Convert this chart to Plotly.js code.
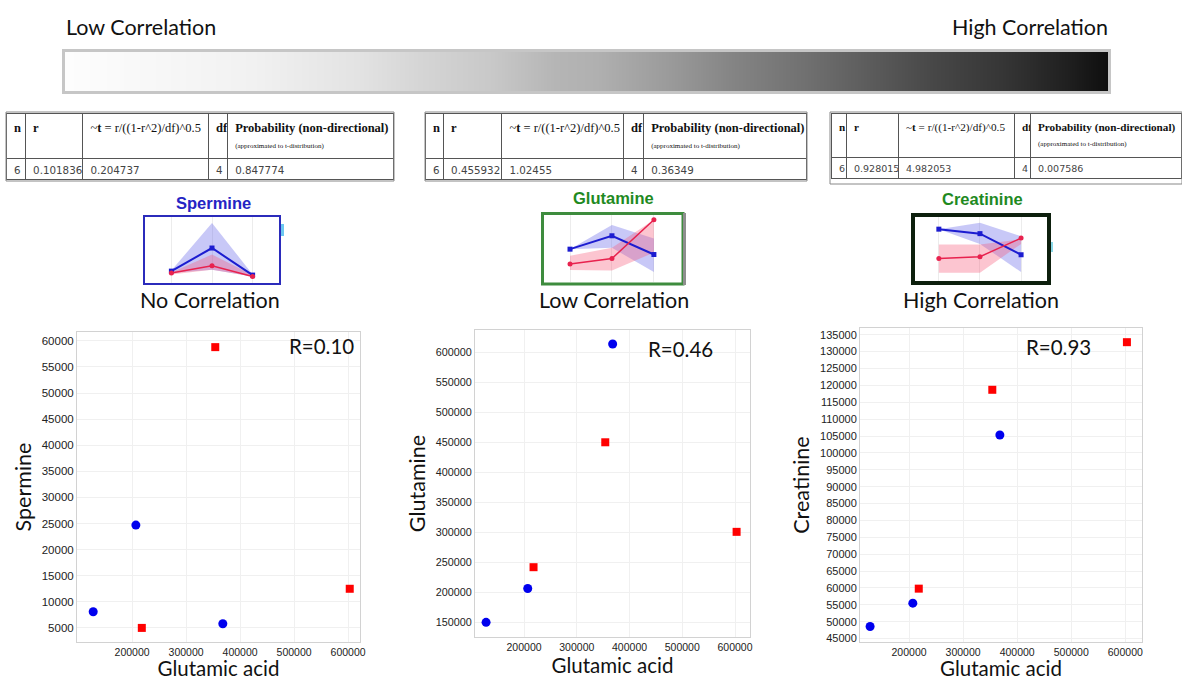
<!DOCTYPE html>
<html>
<head>
<meta charset="utf-8">
<script src="https://cdn.plot.ly/plotly-3.0.1.min.js"></script>
<style>html,body{margin:0;padding:0;background:#fff;}#chart{width:1182px;height:680px;}</style>
</head>
<body>
<div id="chart"></div>
<script>
// ---------- DATA ----------
const glutamicBlue = [128000, 207000, 368000];
const glutamicRed  = [218000, 354000, 603000];
const spermineBlue = [8100, 24700, 5800];
const spermineRed  = [5000, 58800, 12500];
const glutamineBlue = [150000, 206500, 614500];
const glutamineRed  = [242000, 450500, 301000];
const creatinineBlue = [48600, 55500, 105300];
const creatinineRed  = [59800, 118700, 132800];
const glutamicTicks = [200000, 300000, 400000, 500000, 600000];
const rLabels = ["R=0.10", "R=0.46", "R=0.93"];
const metabolites = ["Spermine", "Glutamine", "Creatinine"];
const correlationLabels = ["No Correlation", "Low Correlation", "High Correlation"];

// gradient legend (position along bar, grey level)
const gradientPos = [0, 0.08, 0.18, 0.28, 0.34, 0.41, 0.47, 0.51, 0.58, 0.64, 0.71, 0.77, 0.83, 0.90, 0.96, 1];
const gradientLevels = [253, 248, 241, 227, 213, 200, 181, 176, 154, 132, 112, 92, 72, 53, 32, 14];

// stats tables
const NB = '\u00a0';
const tableHeader = ['<b>n</b>', '<b>r</b>',
  ['~<b>t</b>', '=', 'r/((1-r^2)/df)^0.5'].join(NB), '<b>df</b>',
  '<b>' + ['Probability', '(non-directional)'].join(NB) + '</b><br><span style="font-size:7px">' +
  ['(approximated', 'to', 't-distribution)'].join(NB) + '</span>'];
const statsSpermine   = ['6', '0.101836', '0.204737', '4', '0.847774'];
const statsGlutamine  = ['6', '0.455932', '1.02455', '4', '0.36349'];
const statsCreatinine = ['6', '0.928015', '4.982053', '4', '0.007586'];

// mini icon profiles (3 groups)
const iconX = [0, 1, 2];
const spIconBlue = [1.8, 5.3, 1.2], spIconRed = [1.5, 2.6, 1.0];
const spBandBlueHi = [1.9, 9.1, 1.3], spBandBlueLo = [1.5, 2.0, 1.0];
const spBandRedHi = [1.6, 4.3, 1.2], spBandRedLo = [1.3, 2.0, 1.0];
const glIconBlue = [4.9, 6.9, 4.1], glIconRed = [2.7, 3.5, 9.3];
const glBandBlueHi = [4.9, 8.5, 6.5], glBandBlueLo = [4.9, 5.1, 1.5];
const glBandRedHi = [3.9, 5.1, 9.3], glBandRedLo = [1.8, 1.7, 4.4];
const crIconBlue = [8.1, 7.4, 4.1], crIconRed = [3.5, 3.8, 6.7];
const crBandBlueHi = [8.1, 9.1, 7.0], crBandBlueLo = [8.1, 5.8, 1.4];
const crBandRedHi = [5.7, 5.7, 6.5], crBandRedLo = [1.3, 1.3, 5.8];

// ---------- HELPERS ----------
const W = 1182, H = 680;
const dx = (a, b) => [a / W, b / W];
const dy = (top, bottom) => [1 - bottom / H, 1 - top / H];
const px = a => a / W, py = b => 1 - b / H;

const BLUE = '#0000ee', RED = '#ff0000';
const traces = [];

function scatterPair(xa, ya, yb, yr) {
  traces.push({type: 'scatter', mode: 'markers', x: glutamicBlue, y: yb, xaxis: xa, yaxis: ya,
    marker: {color: BLUE, size: 9, symbol: 'circle'}, hoverinfo: 'skip'});
  traces.push({type: 'scatter', mode: 'markers', x: glutamicRed, y: yr, xaxis: xa, yaxis: ya,
    marker: {color: RED, size: 8, symbol: 'square'}, hoverinfo: 'skip'});
}
scatterPair('x', 'y', spermineBlue, spermineRed);
scatterPair('x2', 'y2', glutamineBlue, glutamineRed);
scatterPair('x3', 'y3', creatinineBlue, creatinineRed);

// gradient bar
traces.push({type: 'heatmap', x: gradientPos, y: [0], z: [gradientLevels], xaxis: 'x4', yaxis: 'y4',
  zmin: 0, zmax: 255, zsmooth: 'best', showscale: false, hoverinfo: 'skip',
  colorscale: [[0, 'rgb(0,0,0)'], [1, 'rgb(255,255,255)']]});

// mini icons
function icon(xa, ya, blue, red, bHi, bLo, rHi, rLo) {
  const polyX = iconX.concat(iconX.slice().reverse());
  traces.push({type: 'scatter', mode: 'lines', x: polyX, y: bHi.concat(bLo.slice().reverse()),
    fill: 'toself', fillcolor: 'rgba(110,110,235,0.38)', line: {width: 0}, xaxis: xa, yaxis: ya, hoverinfo: 'skip'});
  traces.push({type: 'scatter', mode: 'lines', x: polyX, y: rHi.concat(rLo.slice().reverse()),
    fill: 'toself', fillcolor: 'rgba(245,90,120,0.35)', line: {width: 0}, xaxis: xa, yaxis: ya, hoverinfo: 'skip'});
  traces.push({type: 'scatter', mode: 'lines+markers', x: iconX, y: blue, xaxis: xa, yaxis: ya,
    line: {color: '#1c1cd0', width: 2}, marker: {symbol: 'square', size: 5, color: '#1c1cd0'}, hoverinfo: 'skip'});
  traces.push({type: 'scatter', mode: 'lines+markers', x: iconX, y: red, xaxis: xa, yaxis: ya,
    line: {color: '#e8224e', width: 1.5}, marker: {symbol: 'circle', size: 5, color: '#e8224e'}, hoverinfo: 'skip'});
}
icon('x5', 'y5', spIconBlue, spIconRed, spBandBlueHi, spBandBlueLo, spBandRedHi, spBandRedLo);
icon('x6', 'y6', glIconBlue, glIconRed, glBandBlueHi, glBandBlueLo, glBandRedHi, glBandRedLo);
icon('x7', 'y7', crIconBlue, crIconRed, crBandBlueHi, crBandBlueLo, crBandRedHi, crBandRedLo);

// tables
function statTable(row, xd, widths, hs, cs) {
  traces.push({type: 'table', domain: {x: xd, y: dy(113, 182)}, columnwidth: widths,
    header: {values: tableHeader, align: 'left', height: 44,
      line: {color: '#555', width: 1}, fill: {color: '#fff'},
      font: {family: 'Liberation Serif, DejaVu Serif, serif', size: hs, color: '#111'}},
    cells: {values: row.map(v => [v]), align: 'left', height: 21,
      line: {color: '#555', width: 1}, fill: {color: '#fff'},
      font: {family: 'DejaVu Sans, Liberation Sans, sans-serif', size: cs, color: '#444'}}});
}
statTable(statsSpermine, dx(6, 393), [19, 57, 125, 19, 165], 12.5, 10.3);
statTable(statsGlutamine, dx(425, 806), [18, 58, 121, 20, 162], 12.5, 10.3);
statTable(statsCreatinine, dx(831, 1182), [15, 52, 116, 16, 151], 11.2, 9.5);

// ---------- LAYOUT ----------
const tickFontY = s => ({family: 'Liberation Sans, Arial, sans-serif', size: s, color: '#222'});
const titleFont = {family: 'Lato, Open Sans, sans-serif', size: 20.5, color: '#111'};
function sx(dom, range, anchor) {
  return {domain: dom, range: range, anchor: anchor, tickvals: glutamicTicks, tickformat: 'd',
    showline: true, mirror: true, linecolor: '#d2d2d2', linewidth: 1, gridcolor: '#f0f0f0',
    zeroline: false, ticks: '', tickfont: tickFontY(10.5), automargin: false,
    title: {text: 'Glutamic acid', font: titleFont, standoff: 4}};
}
function sy(dom, range, dt, anchor, title, fs) {
  return {domain: dom, range: range, anchor: anchor, dtick: dt, tick0: 0, tickformat: 'd',
    showline: true, mirror: true, linecolor: '#d2d2d2', linewidth: 1, gridcolor: '#f0f0f0',
    zeroline: false, ticks: '', tickfont: tickFontY(fs), automargin: false,
    title: {text: title, font: Object.assign({}, titleFont, {size: 21.5}), standoff: 4}};
}
function iconAx(dom, range, anchor, grid) {
  return {domain: dom, range: range, anchor: anchor, showgrid: grid, gridcolor: '#ececec',
    tickvals: grid ? iconX : [], showticklabels: false, zeroline: false, showline: false, fixedrange: true};
}

const annFont = s => ({family: 'Lato, Open Sans, sans-serif', size: s, color: '#111'});
const iconTitleFont = c => ({family: 'Liberation Sans Narrow, Liberation Sans, Arial, sans-serif', size: 16.5, color: c});
const annotations = [
  {text: 'Low Correlation', x: px(64), y: py(27), xanchor: 'left', yanchor: 'middle', font: annFont(21.5)},
  {text: 'High Correlation', x: px(1110), y: py(27), xanchor: 'right', yanchor: 'middle', font: annFont(21.5)},
  {text: '<b>' + metabolites[0] + '</b>', x: px(213), y: py(203), xanchor: 'center', yanchor: 'middle', font: iconTitleFont('#2424c4')},
  {text: '<b>' + metabolites[1] + '</b>', x: px(613), y: py(198), xanchor: 'center', yanchor: 'middle', font: iconTitleFont('#1f8a1f')},
  {text: '<b>' + metabolites[2] + '</b>', x: px(982), y: py(199), xanchor: 'center', yanchor: 'middle', font: iconTitleFont('#1f8a1f')},
  {text: correlationLabels[0], x: px(210), y: py(300), xanchor: 'center', yanchor: 'middle', font: annFont(21.5)},
  {text: correlationLabels[1], x: px(614), y: py(300), xanchor: 'center', yanchor: 'middle', font: annFont(21.5)},
  {text: correlationLabels[2], x: px(981), y: py(300), xanchor: 'center', yanchor: 'middle', font: annFont(21.5)},
  {text: rLabels[0], x: px(321), y: py(346), xanchor: 'center', yanchor: 'middle', font: annFont(20.5)},
  {text: rLabels[1], x: px(680), y: py(349), xanchor: 'center', yanchor: 'middle', font: annFont(20.5)},
  {text: rLabels[2], x: px(1058), y: py(347), xanchor: 'center', yanchor: 'middle', font: annFont(20.5)}
].map(a => Object.assign({xref: 'paper', yref: 'paper', showarrow: false}, a));

const rect = (x0, y0, x1, y1, line, fill) => ({type: 'rect', xref: 'paper', yref: 'paper',
  x0: px(x0), x1: px(x1), y0: py(y1), y1: py(y0), line: line, fillcolor: fill || 'rgba(0,0,0,0)', layer: 'above'});
const shapes = [
  rect(63.5, 50.5, 1109.5, 92.5, {color: '#c6c6c6', width: 3}),
  rect(6, 112, 394, 181, {color: '#888', width: 1}),
  rect(425, 112, 807, 181, {color: '#888', width: 1}),
  rect(830, 112, 1182, 184, {color: '#888', width: 1}),
  rect(144, 216, 280, 284, {color: '#2b2bbb', width: 2}),
  rect(281, 224, 284, 236, {color: '#6cc8f0', width: 0}, '#6cc8f0'),
  rect(542.5, 213.5, 683, 284, {color: '#3e8c3e', width: 3}),
  rect(683, 213, 686, 285, {color: '#8e8e8e', width: 0}, '#8e8e8e'),
  rect(913, 215, 1049, 283, {color: '#0d1f0d', width: 4}),
  rect(1051, 242, 1053, 252, {color: '#8ad8e8', width: 0}, '#8ad8e8')
];

const layout = {
  width: W, height: H, margin: {l: 0, r: 0, t: 0, b: 0}, showlegend: false, hovermode: false,
  paper_bgcolor: '#fff', plot_bgcolor: 'rgba(0,0,0,0)',
  xaxis: sx(dx(77, 360), [98000, 622000], 'y'),
  yaxis: sy(dy(332, 642), [2300, 61700], 5000, 'x', metabolites[0], 11.5),
  xaxis2: sx(dx(475, 750), [107000, 628400], 'y2'),
  yaxis2: sy(dy(330, 637), [125500, 637900], 50000, 'x2', metabolites[1], 10.8),
  xaxis3: sx(dx(860, 1142), [109300, 630900], 'y3'),
  yaxis3: sy(dy(328, 642), [44000, 137000], 5000, 'x3', metabolites[2], 11),
  xaxis4: {domain: dx(65, 1108), range: [0, 1], anchor: 'y4', visible: false, fixedrange: true},
  yaxis4: {domain: dy(52, 91), range: [-0.5, 0.5], anchor: 'x4', visible: false, fixedrange: true},
  xaxis5: iconAx(dx(145, 279), [-0.65, 2.65], 'y5', true),
  yaxis5: iconAx(dy(217, 283), [0, 10], 'x5', false),
  xaxis6: iconAx(dx(544, 682), [-0.62, 2.67], 'y6', true),
  yaxis6: iconAx(dy(215, 282), [0, 10], 'x6', false),
  xaxis7: iconAx(dx(915, 1047), [-0.58, 2.63], 'y7', true),
  yaxis7: iconAx(dy(217, 281), [0, 10], 'x7', false),
  annotations: annotations,
  shapes: shapes
};

Plotly.newPlot('chart', traces, layout, {staticPlot: true, displayModeBar: false});
</script>
</body>
</html>
